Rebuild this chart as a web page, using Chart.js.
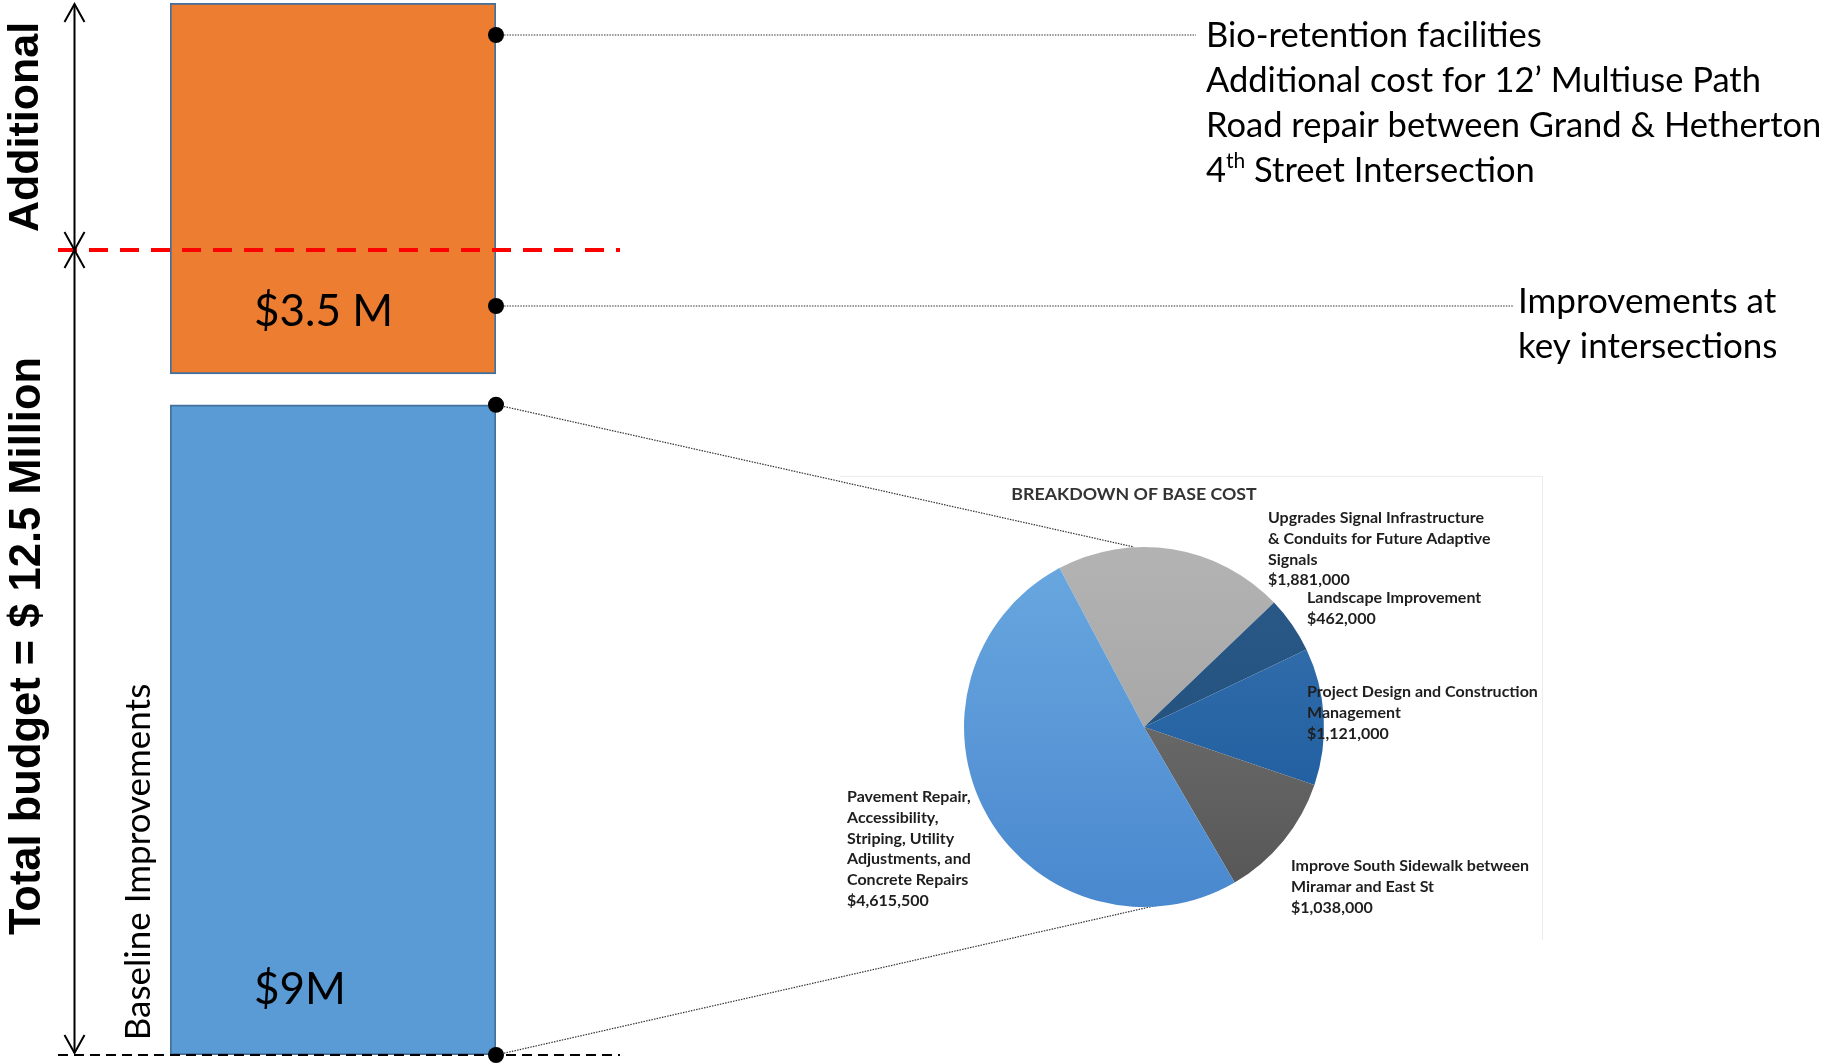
<!DOCTYPE html>
<html>
<head>
<meta charset="utf-8">
<script src="https://cdn.jsdelivr.net/npm/chart.js@4.4.1/dist/chart.umd.min.js"></script>
<style>
  html, body { margin: 0; padding: 0; background: #fff; }
  #wrap { position: relative; width: 1826px; height: 1064px; overflow: hidden; }
  #barBox { position: absolute; left: 0; top: 0; width: 1826px; height: 1064px; }
  #pieBox { position: absolute; left: 836px; top: 475px; width: 707px; height: 462px; }
</style>
</head>
<body>
<div id="wrap">
  <div id="barBox"><canvas id="budgetBar"></canvas></div>
  <div id="pieBox"><canvas id="basePie"></canvas></div>
</div>
<script>
// ---------- data ----------
const barCategory = ['Budget'];
const baselineValue = [9];             // $M
const additionalRange = [[9, 12.5]];   // $M on top of the baseline
const baselineLabel = '$9M';
const additionalLabel = '$3.5 M';

const additionalItems = ['Bio-retention facilities', 'Additional cost for 12’ Multiuse Path', 'Road repair between Grand & Hetherton'];
const intersectionItems = ['Improvements at', 'key intersections'];

const pieTitle = 'BREAKDOWN OF BASE COST';
const pieLabels = [
    ['Upgrades Signal Infrastructure', '& Conduits for Future Adaptive', 'Signals'],
    ['Landscape Improvement'],
    ['Project Design and Construction', 'Management'],
    ['Improve South Sidewalk between', 'Miramar and East St'],
    ['Pavement Repair,', 'Accessibility,', 'Striping, Utility', 'Adjustments, and', 'Concrete Repairs']
];
const pieValues = [1881000, 462000, 1121000, 1038000, 4615500];

// ---------- styles ----------
const pieColors = [
    ['#b3b3b3', '#9c9c9c'],
    ['#2b5b8a', '#1f4a75'],
    ['#3b74b0', '#15569a'],
    ['#7a7a7a', '#555555'],
    ['#6aa8e0', '#4a88cf']
];
// label anchor (left x, first baseline) inside the pie box
const pieLabelPos = [[432, 48], [471, 128], [471, 222], [455, 396], [11, 327]];

const SANS = 'Lato, "Open Sans", sans-serif';
const ARIAL = '"Liberation Sans", Arial, sans-serif';

function vText(ctx, text, x, y, font) {
    ctx.save();
    ctx.translate(x, y);
    ctx.rotate(-Math.PI / 2);
    ctx.font = font;
    ctx.textAlign = 'center';
    ctx.textBaseline = 'alphabetic';
    ctx.fillText(text, 0, 0);
    ctx.restore();
}

function arrowHead(ctx, x, tipY, dir) {
    ctx.beginPath();
    ctx.moveTo(x - 10, tipY - dir * 18);
    ctx.lineTo(x, tipY);
    ctx.lineTo(x + 10, tipY - dir * 18);
    ctx.stroke();
}

function dot(ctx, x, y) {
    ctx.beginPath();
    ctx.arc(x, y, 8, 0, Math.PI * 2);
    ctx.fillStyle = '#000';
    ctx.fill();
}

function dotted(ctx, x1, y1, x2, y2) {
    ctx.save();
    ctx.setLineDash([1.5, 1.2]);
    ctx.lineWidth = 1.2;
    ctx.strokeStyle = '#333';
    ctx.beginPath();
    ctx.moveTo(x1, y1);
    ctx.lineTo(x2, y2);
    ctx.stroke();
    ctx.restore();
}

const overlay = {
    id: 'overlay',
    afterDraw(chart) {
        const ctx = chart.ctx;
        const blue = chart.getDatasetMeta(0).data[0];
        const right = blue.x + blue.width / 2;

        ctx.save();

        // faint frame of the pasted pie panel
        ctx.strokeStyle = '#ececec';
        ctx.lineWidth = 1;
        ctx.beginPath();
        ctx.moveTo(840, 476.5);
        ctx.lineTo(1542.5, 476.5);
        ctx.lineTo(1542.5, 940);
        ctx.stroke();

        // red split line and black baseline
        ctx.setLineDash([19, 12]);
        ctx.strokeStyle = '#ff0000';
        ctx.lineWidth = 4;
        ctx.beginPath();
        ctx.moveTo(58, 250);
        ctx.lineTo(620, 250);
        ctx.stroke();

        ctx.setLineDash([10, 6]);
        ctx.strokeStyle = '#000';
        ctx.lineWidth = 2;
        ctx.beginPath();
        ctx.moveTo(58, blue.base);
        ctx.lineTo(620, blue.base);
        ctx.stroke();
        ctx.setLineDash([]);

        // dimension arrows
        ctx.lineWidth = 2;
        ctx.beginPath();
        ctx.moveTo(74.5, 4);
        ctx.lineTo(74.5, blue.base - 2);
        ctx.stroke();
        arrowHead(ctx, 74.5, 4, -1);
        arrowHead(ctx, 74.5, 250, 1);
        arrowHead(ctx, 74.5, 250, -1);
        arrowHead(ctx, 74.5, blue.base - 2, 1);

        // vertical titles
        ctx.fillStyle = '#000';
        vText(ctx, 'Additional', 38, 127, 'bold 43px ' + ARIAL);
        vText(ctx, 'Total budget = $ 12.5 Million', 40, 646, 'bold 43.5px ' + ARIAL);
        vText(ctx, 'Baseline Improvements', 150, 862, '35px ' + SANS);

        // values in the bars
        ctx.font = '44px ' + SANS;
        ctx.textAlign = 'left';
        ctx.textBaseline = 'alphabetic';
        ctx.fillText(additionalLabel, 254, 326);
        ctx.fillText(baselineLabel, 254, 1004);

        // connectors
        dotted(ctx, right, 35, 1196, 35);
        dotted(ctx, right, 306, 1514, 306);
        dotted(ctx, right, blue.y, 1134, 547);
        dotted(ctx, right, blue.base, 1185, 899);
        dot(ctx, right, 35);
        dot(ctx, right, 306);
        dot(ctx, right, blue.y);
        dot(ctx, right, blue.base);

        // right-hand notes
        ctx.fillStyle = '#000';
        ctx.font = '34.5px ' + SANS;
        additionalItems.forEach((t, i) => ctx.fillText(t, 1206, 47 + i * 45));
        let x = 1206;
        const yLast = 47 + additionalItems.length * 45;
        ctx.fillText('4', x, yLast);
        x += ctx.measureText('4').width;
        ctx.font = '21px ' + SANS;
        ctx.fillText('th', x, yLast - 14);
        x += ctx.measureText('th').width;
        ctx.font = '34.5px ' + SANS;
        ctx.fillText(' Street Intersection', x, yLast);

        ctx.font = '35px ' + SANS;
        intersectionItems.forEach((t, i) => ctx.fillText(t, 1518, 313 + i * 45));

        ctx.restore();
    }
};

new Chart(document.getElementById('budgetBar'), {
    type: 'bar',
    data: {
        labels: barCategory,
        datasets: [
            {
                label: 'Baseline Improvements',
                data: baselineValue,
                yAxisID: 'y',
                backgroundColor: '#5b9bd5',
                borderColor: '#41719c',
                borderWidth: 2,
                borderSkipped: false,
                grouped: false,
                barPercentage: 1,
                categoryPercentage: 1
            },
            {
                label: 'Additional',
                data: additionalRange,
                yAxisID: 'y2',
                backgroundColor: '#ed7d31',
                borderColor: '#41719c',
                borderWidth: 2,
                borderSkipped: false,
                grouped: false,
                barPercentage: 1,
                categoryPercentage: 1
            }
        ]
    },
    options: {
        responsive: true,
        maintainAspectRatio: false,
        animation: false,
        events: [],
        layout: { padding: { left: 170, right: 1330, top: 3, bottom: 9 } },
        scales: {
            x: { display: false },
            y: { display: false, min: 0, max: 14.56 },
            y2: { display: false, min: 2.57, max: 12.5 }
        },
        plugins: { legend: { display: false }, tooltip: { enabled: false } }
    },
    plugins: [overlay]
});

// ---------- pie ----------
const pieText = {
    id: 'pieText',
    afterDraw(chart) {
        const ctx = chart.ctx;
        ctx.save();
        ctx.fillStyle = '#333';
        ctx.font = 'bold 17.8px ' + SANS;
        ctx.textAlign = 'center';
        ctx.fillText(pieTitle, 298, 25);

        ctx.textAlign = 'left';
        ctx.fillStyle = '#1e1e1e';
        ctx.font = 'bold 16px ' + SANS;
        pieLabels.forEach((lines, i) => {
            const [lx, ly] = pieLabelPos[i];
            const all = lines.concat('$' + pieValues[i].toLocaleString('en-US'));
            all.forEach((t, j) => ctx.fillText(t, lx, ly + j * 20.8));
        });
        ctx.restore();
    }
};

new Chart(document.getElementById('basePie'), {
    type: 'pie',
    data: {
        labels: pieLabels.map(l => l.join(' ')),
        datasets: [{
            data: pieValues,
            backgroundColor: (c) => {
                const area = c.chart.chartArea;
                const pair = pieColors[c.dataIndex];
                if (!area) return pair[0];
                const g = c.chart.ctx.createLinearGradient(0, area.top, 0, area.bottom);
                g.addColorStop(0, pair[0]);
                g.addColorStop(1, pair[1]);
                return g;
            },
            borderWidth: 0,
            hoverOffset: 0,
            offset: 0
        }]
    },
    options: {
        responsive: true,
        maintainAspectRatio: false,
        animation: false,
        events: [],
        rotation: -28,
        layout: { padding: { left: 128, top: 72, right: 219, bottom: 30 } },
        plugins: { legend: { display: false }, tooltip: { enabled: false } }
    },
    plugins: [pieText]
});
</script>
</body>
</html>
